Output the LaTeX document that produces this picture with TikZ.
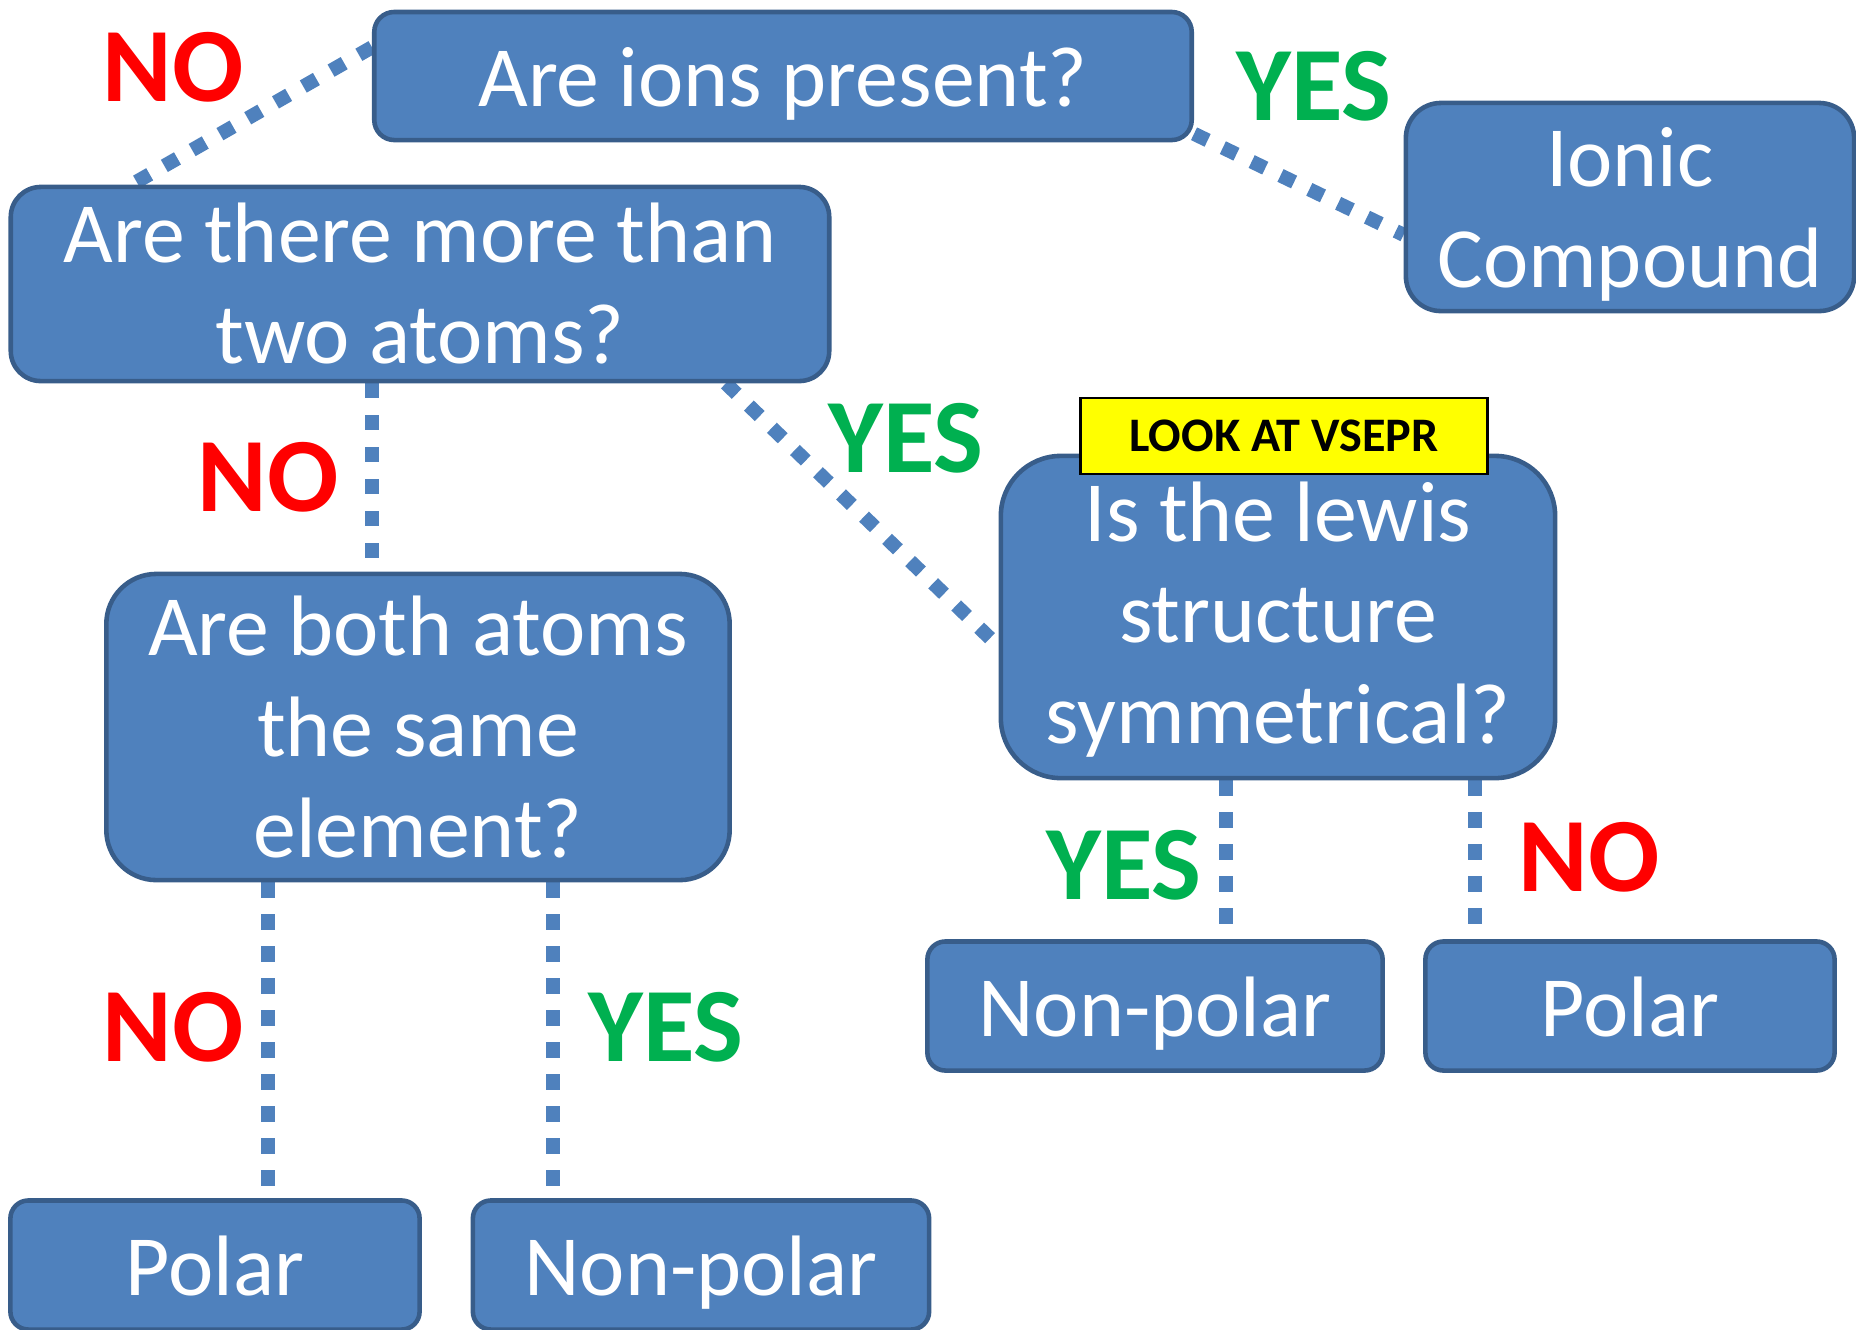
\documentclass[tikz,border=0pt]{standalone}
\usepackage{fontspec}
\setmainfont{Carlito}
\usetikzlibrary{backgrounds}
\definecolor{bleuboite}{HTML}{4F81BD}
\definecolor{bordboite}{HTML}{385D8A}
\definecolor{vertoui}{HTML}{00B050}
\definecolor{rougenon}{HTML}{FF0000}
\definecolor{jaunenote}{HTML}{FFFF00}
\newcommand{\ligneboite}{\rule[-0.2em]{0pt}{1.1em}}
\begin{document}
\begin{tikzpicture}[x=0.01cm,y=-0.01cm,
	boite/.style={draw=bordboite,fill=bleuboite,line width=1.3pt,text=white,align=center,inner sep=0pt,font=\fontsize{24.4}{28.7}\selectfont,execute at begin node=\ligneboite,execute at end node=\ligneboite},
	oui/.style={text=vertoui,inner sep=0pt,font=\fontsize{30}{30}\selectfont\bfseries},
	non/.style={text=rougenon,inner sep=0pt,font=\fontsize{30}{30}\selectfont\bfseries},
	lien/.style={draw=bleuboite,line width=4pt,dash pattern=on 4.3pt off 4.8pt}]
%					Cadre :
	\useasboundingbox (0,0) rectangle (1856,1329);
%					Questions :
	\node[boite,rounded corners=2mm,minimum width=8.17cm,minimum height=1.28cm] (ions) at (783,76) {Are ions present?};
	\node[boite,text height=46pt,text depth=0pt,rounded corners=3.5mm,minimum width=4.48cm,minimum height=2.08cm] (ionic) at (1630,207) {Ionic\\Compound};
	\node[boite,text height=45pt,text depth=0pt,rounded corners=3mm,minimum width=8.18cm,minimum height=1.94cm] (deux) at (420,284) {Are there more than\\two atoms?};
	\node[boite,text height=71.7pt,text depth=0pt,rounded corners=6mm,minimum width=5.54cm,minimum height=3.22cm] (lewis) at (1278,617) {Is the lewis\\structure\\symmetrical?};
	\node[draw=black,fill=jaunenote,line width=0.8pt,inner sep=0pt,minimum width=4.07cm,minimum height=0.76cm,font=\fontsize{13.7}{13.7}\selectfont\bfseries] (vsepr) at (1284,436) {LOOK AT VSEPR};
	\node[boite,text height=74pt,text depth=0pt,rounded corners=5mm,minimum width=6.23cm,minimum height=3.06cm] (meme) at (418,727) {Are both atoms\\the same\\element?};
%					Réponses :
	\node[boite,rounded corners=1.8mm,minimum width=4.55cm,minimum height=1.29cm] (np1) at (1155,1006) {Non-polar};
	\node[boite,rounded corners=1.8mm,minimum width=4.09cm,minimum height=1.29cm] (pol1) at (1630,1006) {Polar};
	\node[boite,rounded corners=1.8mm,minimum width=4.09cm,minimum height=1.29cm] (pol2) at (215,1265) {Polar};
	\node[boite,rounded corners=1.8mm,minimum width=4.56cm,minimum height=1.29cm] (np2) at (701,1265) {Non-polar};
%					Liaisons :
	\begin{scope}[on background layer]
		\draw[lien] (ions.176) -- (deux.161);
		\draw[lien] (ions.-8) -- (ionic.187);
		\draw[lien] ([xshift=-4.8mm]deux.south) -- ([xshift=-4.8mm]deux.south |- meme.north);
		\draw[lien] (deux.-18) -- (lewis.186);
		\draw[lien] ([xshift=-15mm]meme.south) -- ([xshift=-15mm]meme.south |- pol2.north);
		\draw[lien] ([xshift=13.5mm]meme.south) -- ([xshift=13.5mm]meme.south |- np2.north);
		\draw[lien] ([xshift=-5.2mm]lewis.south) -- ([xshift=-5.2mm]lewis.south |- np1.north);
		\draw[lien] ([xshift=19.7mm]lewis.south) -- ([xshift=19.7mm]lewis.south |- pol1.north);
	\end{scope}
%					Étiquettes :
	\node[non] (non1) at (173,67) {NO};
	\node[oui] (oui1) at (1314,86) {YES};
	\node[non] (non2) at (268,477) {NO};
	\node[oui] (oui2) at (906,438) {YES};
	\node[non] (non3) at (173,1027) {NO};
	\node[oui] (oui3) at (666,1027) {YES};
	\node[oui] (oui4) at (1124,865) {YES};
	\node[non] (non4) at (1589,857) {NO};
\end{tikzpicture}
\end{document}
